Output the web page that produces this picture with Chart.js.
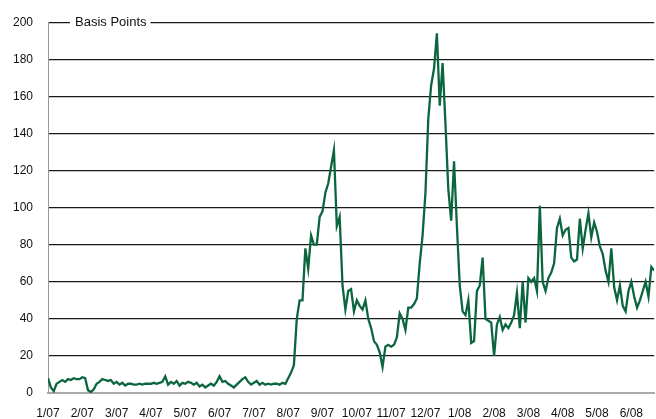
<!DOCTYPE html>
<html>
<head>
<meta charset="utf-8">
<script src="https://cdn.jsdelivr.net/npm/chart.js@4"></script>
<style>
  html, body { margin: 0; padding: 0; background: #fff; }
  #wrap { width: 656px; height: 419px; }
</style>
</head>
<body>
<div id="wrap"><canvas id="chart" width="656" height="419"></canvas></div>
<script>
// spread in basis points, 12 readings per month from Jan 2007
const PER_MONTH = 12;
const TICK_LABELS = ["1/07", "2/07", "3/07", "4/07", "5/07", "6/07", "7/07", "8/07", "9/07",
  "10/07", "11/07", "12/07", "1/08", "2/08", "3/08", "4/08", "5/08", "6/08"];
const Y_TICKS = [0, 20, 40, 60, 80, 100, 120, 140, 160, 180, 200];
const AXIS_TITLE = "Basis Points";

const bp2007 = [
  8, 3, 1, 5, 6, 7, 6, 7.5, 7, 8, 7.5, 7.5,            // jan
  8.5, 8, 1.5, 0.5, 2, 5, 6, 7.5, 7, 6.5, 7, 5,        // feb
  6, 4.5, 5.5, 4, 5, 5, 4.5, 4.5, 5, 4.5, 5, 5,        // mar
  5, 5.5, 5, 5.5, 6, 9, 4.5, 6, 5, 6.5, 4, 5.5,        // apr
  5, 6, 5.5, 4.5, 5.5, 3.5, 4.5, 3, 4, 5, 4, 6,        // may
  9, 6, 6.5, 5, 4, 3, 4.5, 6, 7.5, 8.5, 6, 4.5,        // jun
  5.5, 6.5, 4.5, 5.5, 4.5, 5, 4.5, 5, 5, 4.5, 5.5, 5,  // jul
  8, 11, 15, 40, 50, 50, 78, 67, 85, 80, 80, 95,       // aug
  98, 108, 113, 122, 131, 90, 95, 58, 45, 55, 56, 44,  // sep
  50, 47, 45, 50, 40, 35, 28, 26, 22, 14, 25, 26,      // oct
  25, 26, 30, 43, 40, 34, 46, 46, 48, 51, 70, 85,      // nov
  108, 148, 166, 175, 194, 155, 178, 145, 110, 93, 125, 90 // dec
];
const bp2008 = [
  58, 44, 42, 50, 27, 28, 55, 58, 73, 40, 39, 38,      // jan
  20, 37, 41, 34, 37, 35, 38, 42, 54, 35, 60, 38,      // feb
  62, 60, 62, 55, 101, 60, 55, 62, 65, 70, 89, 94,     // mar
  85, 88, 89, 73, 71, 72, 94, 78, 88, 97, 84, 92,      // apr
  87, 79, 75, 66, 60, 78, 57, 50, 58, 47, 44, 55,      // may
  60, 52, 46, 50, 55, 60, 52, 68, 66                   // jun
];

const values = bp2007.concat(bp2008);
const points = values.map((v, i) => ({ x: i / PER_MONTH, y: v }));

const FONT = { family: "'Liberation Sans', Arial, sans-serif", size: 12 };

const titleBox = {
  id: "titleBox",
  beforeDatasetsDraw(chart) {
    const { ctx, chartArea } = chart;
    const y = chart.scales.y.getPixelForValue(200);
    ctx.save();
    ctx.font = `13px ${FONT.family}`;
    const w = ctx.measureText(AXIS_TITLE).width;
    const x = chartArea.left + 27;
    ctx.fillStyle = "#fff";
    ctx.fillRect(x - 5, y - 8, w + 9, 16);
    ctx.fillStyle = "#111";
    ctx.textBaseline = "middle";
    ctx.fillText(AXIS_TITLE, x, y);
    ctx.restore();
  }
};

new Chart(document.getElementById("chart"), {
  type: "line",
  data: {
    datasets: [{
      data: points,
      borderColor: "#0b6640",
      borderWidth: 2.3,
      pointRadius: 0,
      tension: 0,
      fill: false
    }]
  },
  options: {
    responsive: false,
    animation: false,
    layout: { padding: { top: 22, right: 0, left: 0, bottom: 0 } },
    plugins: { legend: { display: false }, tooltip: { enabled: false } },
    scales: {
      x: {
        type: "linear",
        min: 0,
        max: (values.length - 1) / PER_MONTH,
        grid: { display: false, drawTicks: false },
        border: { color: "#aaa", width: 2 },
        afterBuildTicks: (s) => { s.ticks = TICK_LABELS.map((_, i) => ({ value: i })); },
        afterFit: (s) => { s.height = 26; },
        ticks: {
          autoSkip: false, maxRotation: 0, padding: 13,
          color: "#111", font: FONT,
          callback: (v) => TICK_LABELS[v] ?? ""
        }
      },
      y: {
        min: 0,
        max: 200,
        afterBuildTicks: (s) => { s.ticks = Y_TICKS.map(v => ({ value: v })); },
        afterFit: (s) => { s.width = 48; },
        grid: {
          drawTicks: false,
          color: (c) => c.tick && c.tick.value === 0 ? "rgba(0,0,0,0)" : "#1a1a1a",
          lineWidth: 1.2
        },
        border: { color: "#999", width: 1 },
        ticks: { padding: 15, color: "#111", font: FONT }
      }
    }
  },
  plugins: [titleBox]
});
</script>
</body>
</html>
